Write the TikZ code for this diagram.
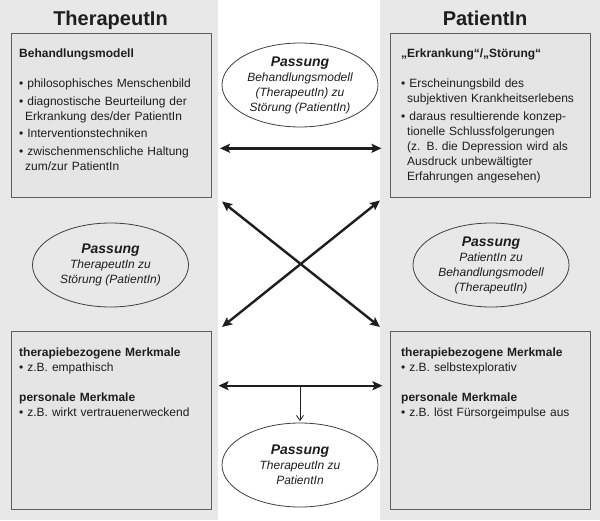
\documentclass[tikz,border=0pt]{standalone}
\usepackage{fontspec}
\setmainfont{Liberation Sans}
\usetikzlibrary{arrows.meta,shapes.geometric}
\definecolor{panel}{HTML}{E8E8E8}
\definecolor{boxfill}{HTML}{E5E5E5}
\definecolor{boxline}{HTML}{5E5E5E}
\definecolor{ink}{HTML}{1E1E1E}
\begin{document}
\begin{tikzpicture}[x=1pt,y=-1pt,
  infobox/.style={draw=boxline, fill=boxfill, line width=1pt, minimum width=200pt, minimum height=164pt, inner sep=0pt, anchor=north west},
  tallbox/.style={infobox, minimum height=178pt},
  boxtext/.style={anchor=base west, text width=188pt, align=left, inner sep=0pt, text=ink, font=\fontsize{12}{15}\selectfont},
  titletext/.style={font=\fontsize{20}{24}\selectfont\bfseries, text=ink, anchor=base, inner sep=0pt},
  passung/.style={ellipse, draw=ink!85, line width=0.8pt, minimum width=156pt, minimum height=84pt, inner sep=0pt, align=center, text=ink, font=\fontsize{12}{15}\selectfont\itshape},
  bigarrow/.style={line width=2.4pt, draw=ink, {Stealth[length=10pt,width=9pt,inset=2pt]}-{Stealth[length=10pt,width=9pt,inset=2pt]}},
  smallarrow/.style={line width=0.8pt, draw=ink, -{Straight Barb[length=5pt,width=7pt]}}
]
\useasboundingbox (0,0) rectangle (600,520);
\fill[white] (0,0) rectangle (600,520);
\fill[panel] (0,0) rectangle (218,520);
\fill[panel] (380,0) rectangle (600,520);

% titles
\node[titletext] (tth) at (110.5,25) {TherapeutIn};
\node[titletext] (tpa) at (485,25) {PatientIn};

% boxes
\node[infobox] (btl) at (11,33.3) {};
\node[infobox] (btr) at (390,33.3) {};
\node[tallbox] (bbl) at (11,331) {};
\node[tallbox] (bbr) at (390,331) {};

% box texts
\node[boxtext] (xtl) at (19,57.5) {\textbf{Behandlungsmodell}\\[15pt]
• philosophisches Menschenbild\\[2.5pt]
• diagnostische Beurteilung der\\
\hspace*{6pt}Erkrankung des/der PatientIn\\[2.5pt]
• Interventionstechniken\\[2.5pt]
• zwischenmenschliche Haltung\\
\hspace*{6pt}zum/zur PatientIn};

\node[boxtext] (xtr) at (401,57.5) {\textbf{„Erkrankung“/„Störung“}\\[15pt]
• Erscheinungsbild des\\
\hspace*{6pt}subjektiven Krankheitserlebens\\[2.5pt]
• daraus resultierende konzep-\\
\hspace*{6pt}tionelle Schlussfolgerungen\\
\hspace*{6pt}(z. B. die Depression wird als\\
\hspace*{6pt}Ausdruck unbewältigter\\
\hspace*{6pt}Erfahrungen angesehen)};

\node[boxtext] (xbl) at (19,356.7) {\textbf{therapiebezogene Merkmale}\\
• z.B. empathisch\\[14.5pt]
\textbf{personale Merkmale}\\
• z.B. wirkt vertrauenerweckend};

\node[boxtext] (xbr) at (401,356.7) {\textbf{therapiebezogene Merkmale}\\
• z.B. selbstexplorativ\\[14.5pt]
\textbf{personale Merkmale}\\
• z.B. löst Fürsorgeimpulse aus};

% ellipses
\node[passung] (pt) at (300,85) {{\fontsize{14}{15}\selectfont\bfseries Passung}\\Behandlungsmodell\\(TherapeutIn) zu\\Störung (PatientIn)};
\node[passung] (pl) at (110.5,265) {{\fontsize{14}{15}\selectfont\bfseries Passung}\\TherapeutIn zu\\Störung (PatientIn)};
\node[passung] (pr) at (491,265) {{\fontsize{14}{15}\selectfont\bfseries Passung}\\PatientIn zu\\Behandlungsmodell\\(TherapeutIn)};
\node[passung] (pb) at (300,465) {{\fontsize{14}{15}\selectfont\bfseries Passung}\\TherapeutIn zu\\PatientIn};

% arrow ends
\coordinate (t1) at (220,148.3);
\coordinate (t2) at (381.5,148.3);
\coordinate (c1) at (222,201.5);
\coordinate (c2) at (380,327);
\coordinate (c3) at (222,327);
\coordinate (c4) at (380,200.5);
\coordinate (b1) at (218.5,385.7);
\coordinate (b2) at (382.5,385.7);
\coordinate (bm) at (300,385.7);

\draw[bigarrow] (t1) -- (t2);
\draw[bigarrow] (c1) -- (c2);
\draw[bigarrow] (c3) -- (c4);
\draw[bigarrow] (b1) -- (b2);
\draw[smallarrow, shorten >=1.5pt] (bm) -- (pb.north);
\end{tikzpicture}
\end{document}
